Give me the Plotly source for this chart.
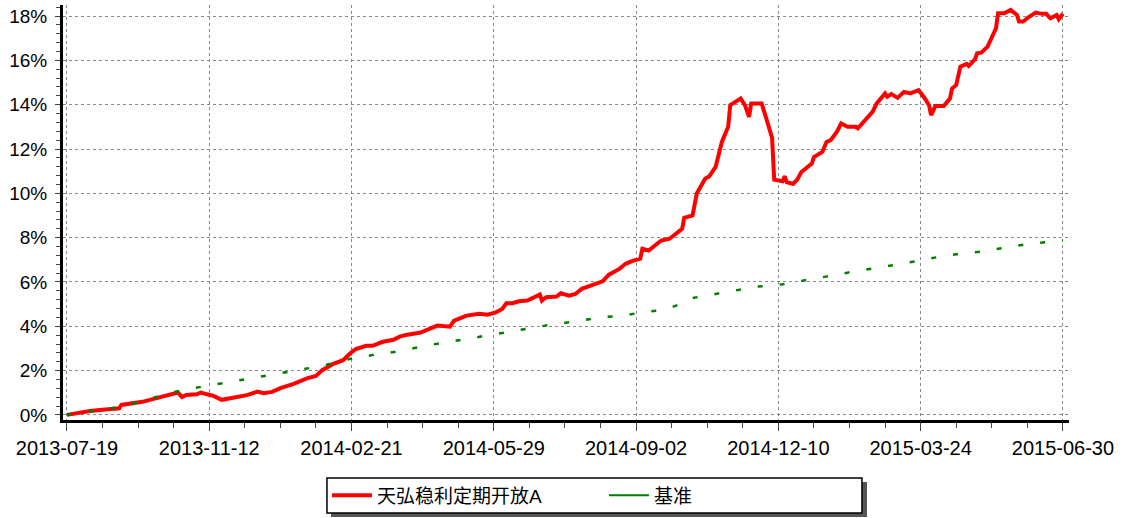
import plotly.graph_objects as go

# trading-day index positions of the sampled points
fund_x = [0, 5, 11, 17, 21, 25, 26, 31, 36, 41, 44, 48, 53, 55, 57, 62, 64, 67, 70, 74,
          78, 83, 86, 91, 94, 98, 102, 108, 115, 119, 122, 127, 132, 135, 138, 143, 146, 151, 156, 159,
          162, 169, 173, 177, 183, 185, 191, 197, 201, 205, 208, 210, 213, 216, 220, 224, 226, 227, 229, 234,
          236, 240, 243, 246, 251, 256, 259, 264, 267, 270, 274, 275, 278, 284, 288, 294, 295, 299, 301, 305,
          307, 310, 313, 316, 317, 322, 324, 326, 327, 332, 334, 337, 338, 342, 343, 344, 347, 349, 351, 356,
          357, 361, 363, 365, 368, 370, 373, 377, 378, 382, 385, 387, 391, 392, 394, 397, 400, 403, 407, 410,
          412, 413, 415, 419, 422, 423, 425, 427, 430, 431, 434, 435, 437, 440, 442, 444, 445, 448, 451, 454,
          455, 457, 460, 463, 466, 468, 470, 473, 474, 476]
fund_y = [0.00, 0.10, 0.18, 0.23, 0.26, 0.30, 0.45, 0.51, 0.59, 0.71, 0.78, 0.90, 1.01, 0.81, 0.90, 0.93, 1.01, 0.93, 0.86, 0.68,
          0.74, 0.81, 0.89, 1.05, 0.98, 1.04, 1.21, 1.39, 1.66, 1.76, 2.02, 2.29, 2.47, 2.75, 2.97, 3.12, 3.12, 3.30, 3.39, 3.53,
          3.61, 3.72, 3.88, 4.03, 3.98, 4.25, 4.48, 4.56, 4.52, 4.63, 4.78, 5.04, 5.04, 5.13, 5.16, 5.34, 5.43, 5.16, 5.31, 5.34,
          5.49, 5.38, 5.46, 5.69, 5.84, 6.03, 6.33, 6.59, 6.82, 6.94, 7.05, 7.50, 7.42, 7.87, 7.95, 8.40, 8.89, 9.00, 9.99, 10.66,
          10.77, 11.19, 12.32, 13.00, 13.98, 14.28, 13.98, 13.45, 14.06, 14.06, 13.45, 12.50, 10.62, 10.55, 10.77, 10.51, 10.42, 10.62, 10.96, 11.34,
          11.64, 11.87, 12.32, 12.40, 12.78, 13.15, 13.00, 13.00, 12.93, 13.38, 13.68, 14.06, 14.51, 14.36, 14.48, 14.31, 14.58, 14.51, 14.66, 14.28,
          13.98, 13.53, 13.94, 13.94, 14.28, 14.73, 14.89, 15.72, 15.84, 15.75, 16.05, 16.32, 16.35, 16.62, 17.00, 17.45, 18.13, 18.13, 18.28, 18.05,
          17.75, 17.75, 17.98, 18.16, 18.10, 18.10, 17.90, 18.05, 17.86, 18.10]

bench_x = [0, 5, 16, 27, 38, 48, 60, 70, 81, 92, 103, 114, 124, 135, 146, 157, 168, 178, 190, 200,
           211, 222, 233, 243, 254, 265, 276, 286, 293, 298, 308, 319, 330, 341, 352, 362, 373, 384, 395, 406,
           416, 428, 438, 449, 460, 471, 476]
bench_y = [0.00, 0.06, 0.23, 0.38, 0.67, 0.97, 1.20, 1.36, 1.54, 1.72, 1.90, 2.08, 2.26, 2.52, 2.70, 2.85, 3.05, 3.23, 3.41, 3.57,
           3.77, 3.92, 4.10, 4.21, 4.39, 4.48, 4.64, 4.75, 5.00, 5.26, 5.43, 5.61, 5.79, 5.88, 6.05, 6.23, 6.42, 6.58, 6.76, 6.94,
           7.12, 7.29, 7.38, 7.56, 7.72, 7.83, 7.88]

tick_pos = [0, 68, 136, 204, 272, 340, 408, 476]
tick_labels = ["2013-07-19", "2013-11-12", "2014-02-21", "2014-05-29",
               "2014-09-02", "2014-12-10", "2015-03-24", "2015-06-30"]
y_ticks = [0, 2, 4, 6, 8, 10, 12, 14, 16, 18]
y_labels = ["0%", "2%", "4%", "6%", "8%", "10%", "12%", "14%", "16%", "18%"]

FONT = "Arial, 'Liberation Sans', 'Noto Sans CJK SC', sans-serif"

fig = go.Figure()
fig.add_trace(go.Scatter(x=fund_x, y=fund_y, mode="lines", name="天弘稳利定期开放A",
                         line=dict(color="#ff0000", width=4)))
fig.add_trace(go.Scatter(x=bench_x, y=bench_y, mode="lines", name="基准", showlegend=False,
                         line=dict(color="#008000", width=2.5, dash="5px,17px")))
# legend entry for the benchmark drawn as a solid line, as in the reference legend
fig.add_trace(go.Scatter(x=[None], y=[None], mode="lines", name="基准",
                         line=dict(color="#008000", width=2)))

fig.update_layout(
    width=1126, height=518,
    margin=dict(l=63, r=57, t=5, b=98, autoexpand=False),
    paper_bgcolor="white", plot_bgcolor="white",
    font=dict(family=FONT, size=19, color="black"),
    showlegend=True,
    legend=dict(orientation="h", x=0.2624, y=-0.1819, xanchor="left", yanchor="middle",
                borderwidth=0, bgcolor="rgba(0,0,0,0)",
                font=dict(size=19), itemwidth=40, entrywidth=222, tracegroupgap=0),
    xaxis=dict(range=[-1.9, 478.9], tickvals=tick_pos, ticktext=tick_labels,
               automargin=False, tickfont=dict(size=20), ticklabeloverflow="allow",
               showline=True, linecolor="black", linewidth=3, mirror=False,
               ticks="outside", ticklen=8, tickwidth=1, tickcolor="#444",
               showgrid=True, gridcolor="#888888", griddash="dot", gridwidth=1,
               zeroline=False,
               minor=dict(dtick=17, tick0=0, ticks="outside", ticklen=5, tickcolor="#444", showgrid=False)),
    yaxis=dict(range=[-0.23, 18.5], tickvals=y_ticks, ticktext=y_labels,
               automargin=False, ticklabelstandoff=4, ticklabeloverflow="allow",
               showline=True, linecolor="black", linewidth=3,
               ticks="outside", ticklen=5, tickwidth=1, tickcolor="#444",
               showgrid=True, gridcolor="#888888", griddash="dot", gridwidth=1,
               zeroline=False,
               minor=dict(dtick=0.4, tick0=0, ticks="outside", ticklen=4, tickcolor="#444", showgrid=False)),
)

# legend drop shadow and frame
fig.add_shape(type="rect", xref="paper", yref="paper",
              x0=0.2664, x1=0.7992, y0=-0.2337, y1=-0.1494,
              fillcolor="#555555", line=dict(width=0), layer="below")
fig.add_shape(type="rect", xref="paper", yref="paper",
              x0=0.2624, x1=0.7942, y0=-0.2241, y1=-0.1398,
              fillcolor="white", line=dict(color="black", width=1.5), layer="below")

# remove the browser's default 8px body margin so the figure sits at the page origin
fig.write_html("out.html", config={"displayModeBar": False},
               post_script="document.body.style.margin='0px';")
